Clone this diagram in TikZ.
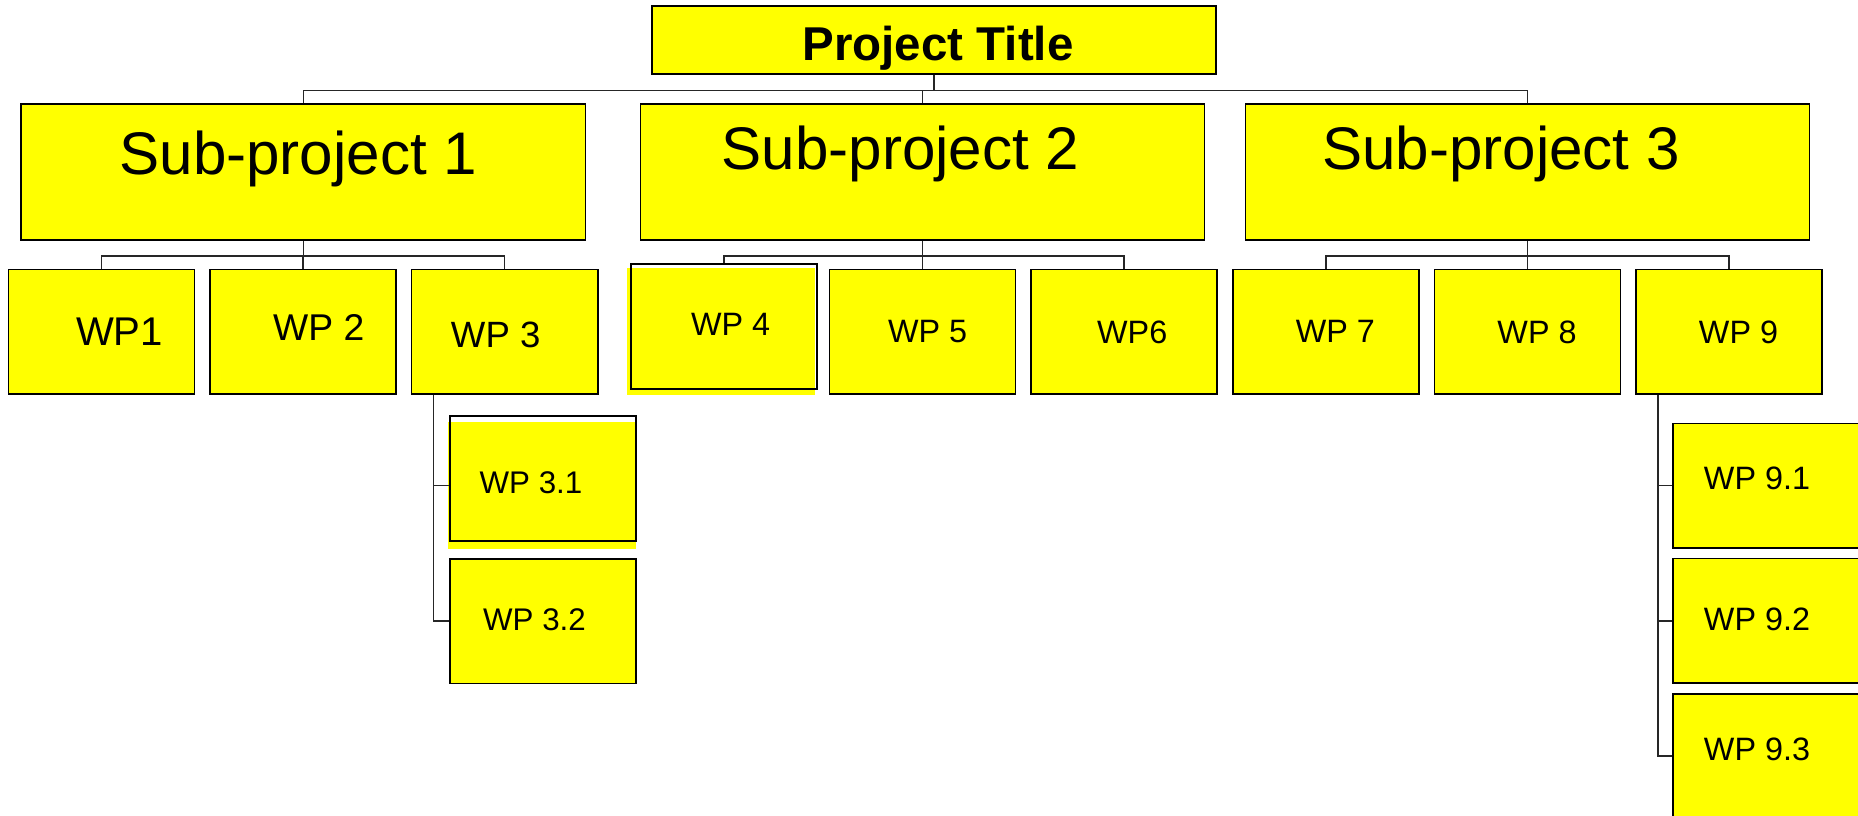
\documentclass[tikz,border=0pt]{standalone}
\usepackage{fontspec}
\setmainfont{Liberation Sans}
\usepackage{tikz}
\usetikzlibrary{positioning, backgrounds}
\usepackage{xcolor}
\definecolor{amarillo}{RGB}{255,255,0}

\begin{document}
\begin{tikzpicture}[
		x=0.01cm, y=-0.01cm, % 1 unidad = 1 px, eje y hacia abajo
		node distance=0.091cm and 0.139cm, % Distancia vertical y horizontal
		% --- Estilos ---
		caja/.style={
			draw,
			rectangle,
			fill=amarillo,
			line width=0.45pt,
			inner sep=0pt
		},
		caja_titulo/.style={caja, minimum width=5.64cm, minimum height=0.68cm},
		caja_sub/.style={caja, minimum width=5.64cm, minimum height=1.36cm},
		caja_wp/.style={caja, minimum width=1.86cm, minimum height=1.245cm},
		texto/.style={inner sep=0pt, text depth=0pt},
		texto_titulo/.style={texto, font=\fontsize{13.5}{16}\selectfont\bfseries},
		texto_sub/.style={texto, font=\fontsize{17.1}{20}\selectfont},
		texto_wp/.style={texto, font=\fontsize{9.2}{11}\selectfont},
		linea/.style={draw=black!85, line width=0.42pt}
		]
		\useasboundingbox (0,0) rectangle (1858,815);

		% 1. Nodos: titulo arriba, subproyectos debajo
		\node[caja_titulo, label={[texto_titulo, shift={(4,3)}]center:Project Title}] (titulo) at (934,39.8) {};
		\node[caja_sub, label={[texto_sub, shift={(-5,-19)}]center:Sub-project 1}] (sp1) at (303.3,172) {};
		\node[caja_sub, label={[texto_sub, shift={(-22,-24)}]center:Sub-project 2}] (sp2) at (922.5,172) {};
		\node[caja_sub, label={[texto_sub, shift={(-26.5,-24)}]center:Sub-project 3}] (sp3) at (1527.5,172) {};

		% 2. Paquetes de trabajo (fila)
		\node[caja_wp, label={[texto_wp, font=\fontsize{11.4}{13}\selectfont, shift={(18,0)}]center:WP1}] (wp1) at (101.5,331.8) {};
		\node[caja_wp, right=of wp1, label={[texto_wp, font=\fontsize{10.6}{13}\selectfont, shift={(15.6,-4.5)}]center:WP 2}] (wp2) {};
		\node[caja_wp, right=of wp2, label={[texto_wp, font=\fontsize{10.4}{12}\selectfont, shift={(-9,3)}]center:WP 3}] (wp3) {};
		\node[caja_wp, fill=none, label={[texto_wp, shift={(6.6,-2.5)}]center:WP 4}] (wp4) at (724,326.5) {};
		\node[caja_wp, label={[texto_wp, shift={(5,0)}]center:WP 5}] (wp5) at (922.6,331.8) {};
		\node[caja_wp, right=of wp5, label={[texto_wp, shift={(8,0)}]center:WP6}] (wp6) {};
		\node[caja_wp, right=of wp6, label={[texto_wp, shift={(9.5,0)}]center:WP 7}] (wp7) {};
		\node[caja_wp, right=of wp7, label={[texto_wp, shift={(9.6,0)}]center:WP 8}] (wp8) {};
		\node[caja_wp, right=of wp8, label={[texto_wp, shift={(9.5,0)}]center:WP 9}] (wp9) {};

		% 3. Sub-paquetes de WP 3 y WP 9
		\node[caja_wp, fill=none, label={[texto_wp, font=\fontsize{8.9}{11}\selectfont, shift={(-12,4.5)}]center:WP 3.1}] (wp31) at (543,478.5) {};
		\node[caja_wp, below=0.164cm of wp31, label={[texto_wp, font=\fontsize{8.9}{11}\selectfont, shift={(-8.5,-2)}]center:WP 3.2}] (wp32) {};
		\node[caja_wp, label={[texto_wp, shift={(-9,-7.6)}]center:WP 9.1}] (wp91) at (1766,485.6) {};
		\node[caja_wp, below=of wp91, label={[texto_wp, shift={(-9,-1.3)}]center:WP 9.2}] (wp92) {};
		\node[caja_wp, below=of wp92, label={[texto_wp, shift={(-9,-6.6)}]center:WP 9.3}] (wp93) {};

		% 4. Relleno desplazado (WP 4 y WP 3.1)
		\begin{scope}[on background layer]
			\fill[amarillo] ([shift={(-3,5)}]wp4.south west) rectangle ([shift={(-3,5)}]wp4.north east);
			\fill[amarillo] ([shift={(-1,7)}]wp31.south west) rectangle ([shift={(-1,7)}]wp31.north east);
		\end{scope}

		% 5. Conectores titulo -> subproyectos
		\draw[linea] (titulo.south) -- ++(0,16) -| (sp1.north);
		\draw[linea] (titulo.south) -- ++(0,16) -| (sp2.north);
		\draw[linea] (titulo.south) -- ++(0,16) -| (sp3.north);

		% 6. Conectores subproyectos -> paquetes
		\draw[linea] (sp1.south) -- ++(0,15) -| (wp1.north);
		\draw[linea] (sp1.south) -- ++(0,15) -| (wp2.north);
		\draw[linea] (sp1.south) -- ++(0,15) -| (wp3.north);
		\draw[linea] (sp2.south) -- ++(0,15) -| (wp4.north);
		\draw[linea] (sp2.south) -- ++(0,15) -| (wp5.north);
		\draw[linea] (sp2.south) -- ++(0,15) -| (wp6.north);
		\draw[linea] (sp3.south) -- ++(0,15) -| (wp7.north);
		\draw[linea] (sp3.south) -- ++(0,15) -| (wp8.north);
		\draw[linea] (sp3.south) -- ++(0,15) -| (wp9.north);

		% 7. Conectores laterales a los sub-paquetes
		\draw[linea] ([shift={(22.5,0)}]wp3.south west) |- ([shift={(0,7)}]wp31.west);
		\draw[linea] ([shift={(22.5,0)}]wp3.south west) |- (wp32.west);
		\draw[linea] ([shift={(23,0)}]wp9.south west) |- (wp91.west);
		\draw[linea] ([shift={(23,0)}]wp9.south west) |- (wp92.west);
		\draw[linea] ([shift={(23,0)}]wp9.south west) |- (wp93.west);

	\end{tikzpicture}
\end{document}
